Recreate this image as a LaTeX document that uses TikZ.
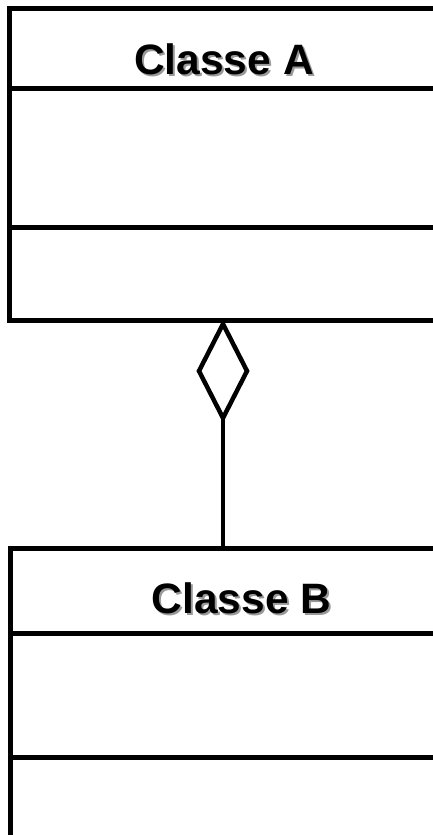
\documentclass[tikz,border=0pt]{standalone}
\usepackage{fontspec}
\setmainfont{Liberation Sans}
\usetikzlibrary{shapes.geometric}
\begin{document}
\begin{tikzpicture}[x=1pt,y=-1pt,
  classbox/.style={draw,line width=5pt,minimum width=450pt,anchor=north west,inner sep=0pt,outer sep=0pt},
  sepline/.style={line width=5pt},
  title/.style={font=\fontsize{42.5}{48}\selectfont\bfseries,inner sep=0pt},
  shadowtxt/.style={title,text=black!40}]
\useasboundingbox (0,0) rectangle (433,835);
\clip (0,0) rectangle (433,835);
\fill[white] (0,0) rectangle (433,835);
% Classe A
\node[classbox,minimum height=311.5pt] (A) at (9.5,8.5) {};
\draw[sepline] (A.west |- 0,88) -- (A.east |- 0,88);
\draw[sepline] (A.west |- 0,227.5) -- (A.east |- 0,227.5);
\node[shadowtxt] (Ash) at (226,61) {Classe A};
\node[title] (At) at (224,59) {Classe A};
% Classe B
\node[classbox,minimum height=289pt] (B) at (10,548.5) {};
\draw[sepline] (B.west |- 0,633) -- (B.east |- 0,633);
\draw[sepline] (B.west |- 0,757.5) -- (B.east |- 0,757.5);
\node[shadowtxt] (Bsh) at (243.5,600) {Classe B};
\node[title] (Bt) at (241.5,598) {Classe B};
% aggregation
\node[diamond,draw,line width=4.5pt,minimum width=48pt,minimum height=94pt,inner sep=0pt,outer sep=0pt,anchor=north,fill=white] (D) at (223,324) {};
\draw[line width=4pt] (D.south) -- (D.south |- B.north);
\end{tikzpicture}
\end{document}
